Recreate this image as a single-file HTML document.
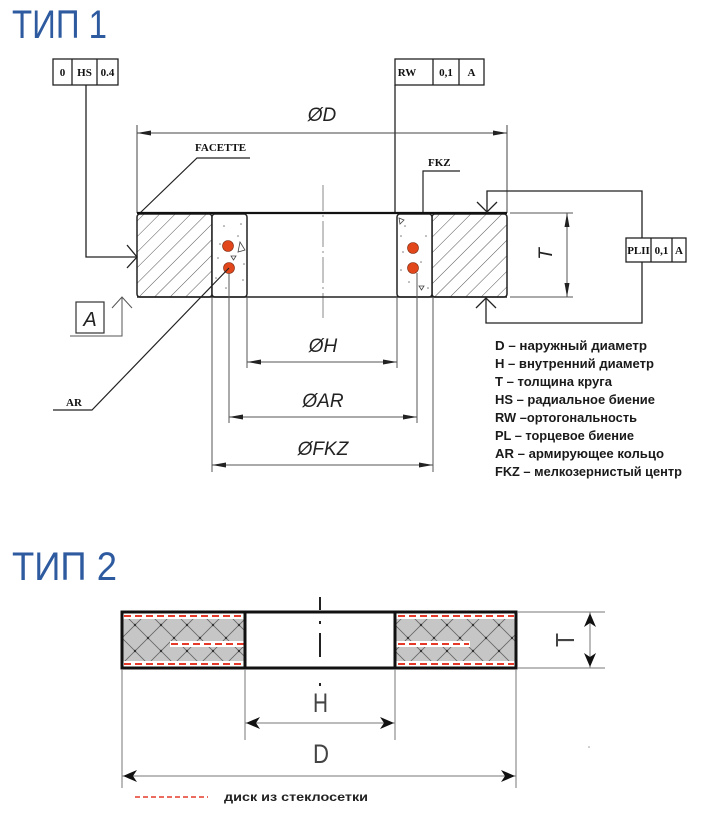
<!DOCTYPE html>
<html><head><meta charset="utf-8"><style>
html,body{margin:0;padding:0;background:#fff;}
svg{display:block;}
.ser{font-family:"Liberation Serif",serif;font-weight:bold;font-size:11px;fill:#111;}
.dim{font-family:"Liberation Sans",sans-serif;font-style:italic;fill:#222;}
.leg{font-family:"Liberation Sans","Noto Sans CJK SC",sans-serif;font-weight:bold;font-size:12.5px;fill:#1a1a1a;}
.ttl{font-family:"Liberation Sans","Noto Sans CJK SC",sans-serif;font-size:40px;fill:#2e5aa0;}
</style></head><body>
<svg width="705" height="818" viewBox="0 0 705 818" xmlns="http://www.w3.org/2000/svg">
<defs>
 <pattern id="hatch" patternUnits="userSpaceOnUse" width="11" height="11" patternTransform="rotate(45)">
   <line x1="0" y1="0" x2="0" y2="11" stroke="#555" stroke-width="1"/>
 </pattern>
 <pattern id="xh" patternUnits="userSpaceOnUse" width="26" height="26" x="122" y="612">
   <rect width="26" height="26" fill="#c6c6c6"/>
   <path d="M0,0L26,26M26,0L0,26" stroke="#666" stroke-width="0.8"/>
   <circle cx="13" cy="13" r="1.2" fill="#333"/>
   <circle cx="0" cy="0" r="1.2" fill="#333"/>
   <circle cx="26" cy="0" r="1.2" fill="#333"/>
   <circle cx="0" cy="26" r="1.2" fill="#333"/>
   <circle cx="26" cy="26" r="1.2" fill="#333"/>
 </pattern>
</defs>
<rect width="705" height="818" fill="#fff"/>

<!-- ===== TYPE 1 ===== -->
<text class="ttl" x="12" y="38" textLength="95" lengthAdjust="spacingAndGlyphs">ТИП 1</text>

<!-- HS box -->
<g stroke="#222" stroke-width="1.3" fill="none">
 <rect x="53" y="59" width="65" height="26"/>
 <line x1="72" y1="59" x2="72" y2="85"/>
 <line x1="97" y1="59" x2="97" y2="85"/>
 <polyline points="86,85 86,257 137,257"/>
 <polyline points="127,245 137,257 127,268"/>
</g>
<text class="ser" x="62.5" y="76" text-anchor="middle">0</text>
<text class="ser" x="84.5" y="76" text-anchor="middle">HS</text>
<text class="ser" x="107.5" y="76" text-anchor="middle">0.4</text>

<!-- RW box -->
<g stroke="#222" stroke-width="1.3" fill="none">
 <rect x="395" y="59" width="89" height="26"/>
 <line x1="433" y1="59" x2="433" y2="85"/>
 <line x1="459" y1="59" x2="459" y2="85"/>
 <line x1="395" y1="85" x2="395" y2="213"/>
</g>
<text class="ser" x="407" y="76" text-anchor="middle">RW</text>
<text class="ser" x="446" y="76" text-anchor="middle">0,1</text>
<text class="ser" x="471.5" y="76" text-anchor="middle">A</text>

<!-- ØD dim -->
<g stroke="#444" stroke-width="1">
 <line x1="137" y1="125" x2="137" y2="213"/>
 <line x1="507" y1="125" x2="507" y2="213"/>
 <line x1="137" y1="133" x2="507" y2="133"/>
</g>
<polygon points="137,133 151,130.5 151,135.5" fill="#222"/>
<polygon points="507,133 493,130.5 493,135.5" fill="#222"/>
<text class="dim" x="322" y="121" font-size="19" text-anchor="middle">ØD</text>

<!-- FACETTE -->
<text class="ser" x="195" y="151" font-size="10">FACETTE</text>
<polyline points="250,158 197,158 140,213" fill="none" stroke="#222" stroke-width="1.2"/>

<!-- FKZ label -->
<text class="ser" x="428" y="166" font-size="10">FKZ</text>
<polyline points="460,171 423,171 423,233" fill="none" stroke="#222" stroke-width="1.2"/>

<!-- center line -->
<line x1="323" y1="185" x2="323" y2="318" stroke="#888" stroke-width="1" stroke-dasharray="26 4 2 4"/>

<!-- ring body -->
<rect x="137" y="214" width="75" height="83" rx="3" fill="url(#hatch)" stroke="#222" stroke-width="1.5"/>
<rect x="432" y="214" width="75" height="83" rx="3" fill="url(#hatch)" stroke="#222" stroke-width="1.5"/>
<rect x="212" y="214" width="35" height="83" rx="3" fill="#fff" stroke="#222" stroke-width="1.5"/>
<rect x="397" y="214" width="35" height="83" rx="3" fill="#fff" stroke="#222" stroke-width="1.5"/>
<line x1="137" y1="213" x2="507" y2="213" stroke="#111" stroke-width="2.2"/>
<line x1="137" y1="297" x2="507" y2="297" stroke="#222" stroke-width="1.5"/>

<!-- speckles -->
<g fill="#777">
 <circle cx="224" cy="226" r="0.8"/><circle cx="241" cy="224" r="0.8"/><circle cx="238" cy="236" r="0.8"/>
 <circle cx="218" cy="258" r="0.8"/><circle cx="216" cy="278" r="0.8"/><circle cx="243" cy="280" r="0.8"/>
 <circle cx="226" cy="288" r="0.8"/><circle cx="244" cy="264" r="0.8"/><circle cx="220" cy="244" r="0.8"/>
 <circle cx="401" cy="236" r="0.8"/><circle cx="405" cy="226" r="0.8"/><circle cx="421" cy="262" r="0.8"/>
 <circle cx="403" cy="252" r="0.8"/><circle cx="409" cy="282" r="0.8"/><circle cx="428" cy="288" r="0.8"/>
 <circle cx="401" cy="270" r="0.8"/><circle cx="426" cy="236" r="0.8"/>
</g>
<g fill="none" stroke="#444" stroke-width="0.8">
 <polygon points="240,242 245,250 238,252"/>
 <polygon points="231,256 236,256 233.5,260"/>
 <polygon points="399,218 404,220 400,224"/>
 <polygon points="419,286 424,286 421.5,290"/>
</g>

<!-- red dots -->
<g fill="#e2471c" stroke="#7a2a10" stroke-width="0.6">
 <circle cx="228" cy="246" r="5.5"/>
 <circle cx="229" cy="268" r="5.5"/>
 <circle cx="413" cy="248" r="5.5"/>
 <circle cx="413" cy="268" r="5.5"/>
</g>

<!-- AR leader -->
<polyline points="229,268 92,410 53,410" fill="none" stroke="#222" stroke-width="1.2"/>
<text class="ser" x="66" y="406" font-size="10">AR</text>

<!-- Datum A -->
<rect x="76" y="302" width="28" height="31" fill="none" stroke="#333" stroke-width="1.2"/>
<text class="dim" x="90" y="326" font-size="20" text-anchor="middle">A</text>
<polyline points="70,336 122,336 122,297" fill="none" stroke="#555" stroke-width="1"/>
<polyline points="112,308 122,297 132,308" fill="none" stroke="#555" stroke-width="1"/>

<!-- ØH -->
<g stroke="#555" stroke-width="1">
 <line x1="247" y1="297" x2="247" y2="368"/>
 <line x1="397" y1="297" x2="397" y2="368"/>
 <line x1="247" y1="362" x2="397" y2="362"/>
 <line x1="229" y1="273" x2="229" y2="423"/>
 <line x1="417" y1="273" x2="417" y2="423"/>
 <line x1="229" y1="417" x2="417" y2="417"/>
 <line x1="212" y1="297" x2="212" y2="472"/>
 <line x1="433" y1="297" x2="433" y2="472"/>
 <line x1="212" y1="465" x2="433" y2="465"/>
</g>
<g fill="#222">
 <polygon points="247,362 261,359.5 261,364.5"/><polygon points="397,362 383,359.5 383,364.5"/>
 <polygon points="229,417 243,414.5 243,419.5"/><polygon points="417,417 403,414.5 403,419.5"/>
 <polygon points="212,465 226,462.5 226,467.5"/><polygon points="433,465 419,462.5 419,467.5"/>
</g>
<text class="dim" x="323" y="352" font-size="19" text-anchor="middle">ØH</text>
<text class="dim" x="323" y="407" font-size="19" text-anchor="middle">ØAR</text>
<text class="dim" x="323" y="455" font-size="19" text-anchor="middle">ØFKZ</text>

<!-- T dim -->
<g stroke="#555" stroke-width="1">
 <line x1="510" y1="213" x2="573" y2="213"/>
 <line x1="510" y1="297" x2="573" y2="297"/>
 <line x1="567" y1="213" x2="567" y2="297"/>
</g>
<polygon points="567,213 564.5,227 569.5,227" fill="#222"/>
<polygon points="567,297 564.5,283 569.5,283" fill="#222"/>
<text class="dim" x="0" y="0" font-size="19" text-anchor="middle" transform="translate(552,254) rotate(-90)">T</text>

<!-- PL box -->
<g stroke="#222" stroke-width="1.3" fill="none">
 <rect x="626" y="238" width="60" height="24"/>
 <line x1="651" y1="238" x2="651" y2="262"/>
 <line x1="672" y1="238" x2="672" y2="262"/>
 <polyline points="642,238 642,191 487,191 487,213"/>
 <polyline points="477,202 487,212 497,202"/>
 <polyline points="642,262 642,323 486,323 486,297"/>
 <polyline points="476,308 486,298 496,308"/>
</g>
<text class="ser" x="638.5" y="254" text-anchor="middle" font-size="10">PLII</text>
<text class="ser" x="661.5" y="254" text-anchor="middle" font-size="10">0,1</text>
<text class="ser" x="679" y="254" text-anchor="middle" font-size="10">A</text>

<!-- legend -->
<text class="leg" x="495" y="350" textLength="152" lengthAdjust="spacingAndGlyphs">D – наружный диаметр</text>
<text class="leg" x="495" y="368" textLength="159" lengthAdjust="spacingAndGlyphs">H – внутренний диаметр</text>
<text class="leg" x="495" y="386" textLength="117" lengthAdjust="spacingAndGlyphs">T – толщина круга</text>
<text class="leg" x="495" y="404" textLength="160" lengthAdjust="spacingAndGlyphs">HS – радиальное биение</text>
<text class="leg" x="495" y="422" textLength="142" lengthAdjust="spacingAndGlyphs">RW –ортогональность</text>
<text class="leg" x="495" y="440" textLength="139" lengthAdjust="spacingAndGlyphs">PL – торцевое биение</text>
<text class="leg" x="495" y="458" textLength="169" lengthAdjust="spacingAndGlyphs">AR – армирующее кольцо</text>
<text class="leg" x="495" y="476" textLength="187" lengthAdjust="spacingAndGlyphs">FKZ – мелкозернистый центр</text>

<!-- ===== TYPE 2 ===== -->
<text class="ttl" x="12" y="580" textLength="105" lengthAdjust="spacingAndGlyphs">ТИП 2</text>

<!-- blocks -->
<rect x="122" y="612" width="123" height="56" fill="url(#xh)"/>
<rect x="395" y="612" width="121" height="56" fill="url(#xh)"/>
<!-- white strips -->
<g fill="#fff">
 <rect x="123" y="613" width="121" height="6"/>
 <rect x="123" y="661" width="121" height="6"/>
 <rect x="170" y="641" width="74" height="6"/>
 <rect x="396" y="613" width="119" height="6"/>
 <rect x="396" y="661" width="119" height="6"/>
 <rect x="396" y="641" width="74" height="6"/>
</g>
<g stroke="#e53a2a" stroke-width="2" stroke-dasharray="7 4">
 <line x1="124" y1="616" x2="244" y2="616"/>
 <line x1="124" y1="664" x2="244" y2="664"/>
 <line x1="171" y1="644" x2="244" y2="644"/>
 <line x1="398" y1="616" x2="514" y2="616"/>
 <line x1="398" y1="664" x2="514" y2="664"/>
 <line x1="398" y1="644" x2="469" y2="644"/>
</g>
<g fill="none" stroke="#111" stroke-width="3">
 <rect x="122" y="612" width="123" height="56"/>
 <rect x="245" y="612" width="150" height="56"/>
 <rect x="395" y="612" width="121" height="56"/>
</g>

<!-- center line type2 -->
<g stroke="#222" stroke-width="2">
 <line x1="320" y1="597" x2="320" y2="610"/>
 <line x1="320" y1="621" x2="320" y2="624"/>
 <line x1="320" y1="633" x2="320" y2="657"/>
 <line x1="320" y1="683" x2="320" y2="686"/>
</g>

<!-- ext lines -->
<g stroke="#777" stroke-width="1">
 <line x1="122" y1="669" x2="122" y2="788"/>
 <line x1="516" y1="669" x2="516" y2="788"/>
 <line x1="245" y1="669" x2="245" y2="740"/>
 <line x1="395" y1="669" x2="395" y2="740"/>
 <line x1="245" y1="723" x2="395" y2="723"/>
 <line x1="122" y1="776" x2="516" y2="776"/>
 <line x1="517" y1="612" x2="605" y2="612"/>
 <line x1="517" y1="668" x2="605" y2="668"/>
 <line x1="590" y1="612" x2="590" y2="668"/>
</g>
<g fill="#111">
 <polygon points="246,723 260,717 256,723 260,729"/>
 <polygon points="394,723 380,717 384,723 380,729"/>
 <polygon points="123,776 137,770 133,776 137,782"/>
 <polygon points="515,776 501,770 505,776 501,782"/>
 <polygon points="590,613 584,627 590,623 596,627"/>
 <polygon points="590,667 584,653 590,657 596,653"/>
</g>
<text x="320.5" y="712" font-family="Liberation Sans, sans-serif" font-size="27" fill="#444" text-anchor="middle" textLength="15" lengthAdjust="spacingAndGlyphs">H</text>
<text x="321" y="763" font-family="Liberation Sans, sans-serif" font-size="27" fill="#444" text-anchor="middle" textLength="16" lengthAdjust="spacingAndGlyphs">D</text>
<text x="0" y="0" font-family="Liberation Sans, sans-serif" font-size="26" fill="#444" text-anchor="middle" transform="translate(574,640) rotate(-90)" textLength="14" lengthAdjust="spacingAndGlyphs">T</text>
<circle cx="589" cy="747" r="0.8" fill="#999"/>

<!-- legend type 2 -->
<line x1="135" y1="797" x2="208" y2="797" stroke="#e53a2a" stroke-width="1.5" stroke-dasharray="5 3"/>
<text x="224" y="801" font-family="Liberation Sans, sans-serif" font-weight="bold" font-size="12" fill="#222" textLength="144" lengthAdjust="spacingAndGlyphs">диск  из стеклосетки</text>
</svg>
</body></html>
